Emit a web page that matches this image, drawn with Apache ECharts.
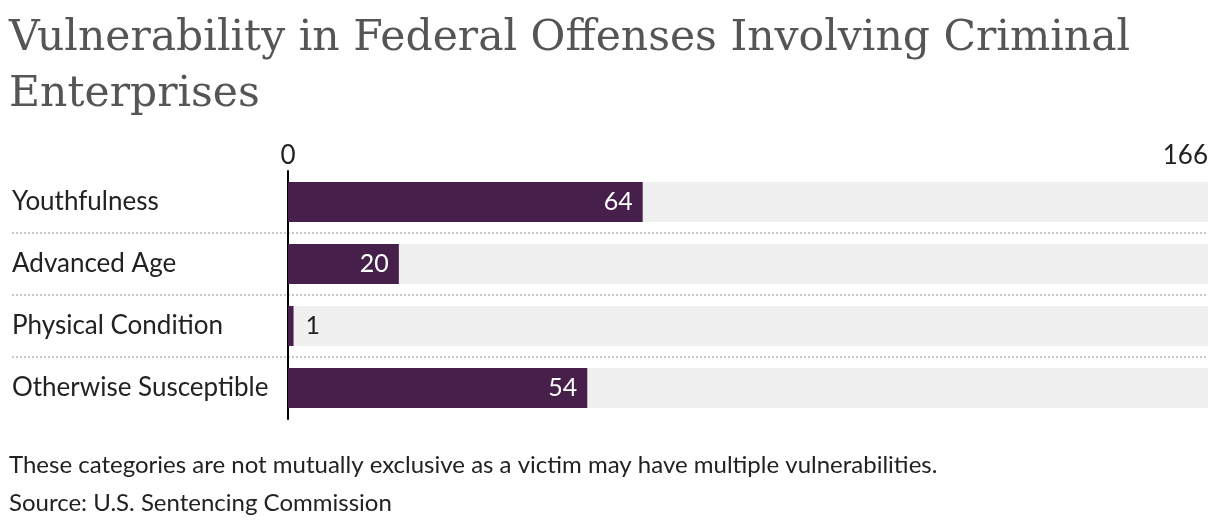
<!DOCTYPE html>
<html>
<head>
<meta charset="utf-8">
<script src="https://cdn.jsdelivr.net/npm/echarts@6/dist/echarts.min.js"></script>
<style>
html,body{margin:0;padding:0;background:#fff;}
#chart{width:1220px;height:528px;}
</style>
</head>
<body>
<div id="chart"></div>
<script>
const titleText = 'Vulnerability in Federal Offenses Involving Criminal\nEnterprises';
const noteText = 'These categories are not mutually exclusive as a victim may have multiple vulnerabilities.';
const sourceText = 'Source: U.S. Sentencing Commission';
const categories = ['Youthfulness', 'Advanced Age', 'Physical Condition', 'Otherwise Susceptible'];
const values = [64, 20, 1, 54];
const axisMax = 166;

const barColor = '#46204a';
const chart = echarts.init(document.getElementById('chart'));

const barData = values.map(v => v < 10
  ? { value: v, label: { position: 'right', color: '#222', distance: 12 } }
  : { value: v });

chart.setOption({
  animation: false,
  title: [
    { text: titleText, left: 4, top: 6,
      textStyle: { fontFamily: 'DejaVu Serif', fontWeight: 'normal', fontSize: 42.5, lineHeight: 56, color: '#555' } },
    { text: noteText, left: 4, top: 448,
      textStyle: { fontFamily: 'Lato', fontWeight: 'normal', fontSize: 24, color: '#222' } },
    { text: sourceText, left: 4, top: 486,
      textStyle: { fontFamily: 'Lato', fontWeight: 'normal', fontSize: 24, color: '#222' } }
  ],
  grid: [
    { left: 288, right: 12, top: 171, bottom: 109 },
    { left: 12, right: 12, top: 233, height: 124 }
  ],
  xAxis: [
    { type: 'value', gridIndex: 0, position: 'top', min: 0, max: axisMax, interval: axisMax,
      axisLine: { show: false }, axisTick: { show: false }, splitLine: { show: false },
      axisLabel: { fontFamily: 'Lato', fontSize: 26, color: '#222', margin: 2,
        alignMinLabel: 'center', alignMaxLabel: 'right' } },
    { type: 'value', gridIndex: 1, min: 0, max: 1, show: false }
  ],
  yAxis: [
    { type: 'category', gridIndex: 0, data: categories, inverse: true,
      axisLine: { show: true, onZero: false, lineStyle: { color: '#000', width: 2 } },
      axisTick: { show: false }, splitLine: { show: false },
      axisLabel: { fontFamily: 'Lato', fontSize: 26, color: '#222', align: 'left', margin: 276 } },
    { type: 'value', gridIndex: 1, min: 0, max: 2, interval: 1,
      axisLine: { show: false }, axisTick: { show: false }, axisLabel: { show: false },
      splitLine: { show: true, lineStyle: { type: [2, 2], color: '#c8c8c8', width: 2 } } }
  ],
  series: [
    { type: 'bar', xAxisIndex: 0, yAxisIndex: 0, data: barData, barWidth: 40,
      itemStyle: { color: barColor },
      showBackground: true, backgroundStyle: { color: '#f0f0f0' },
      label: { show: true, position: 'insideRight', distance: 10, color: '#fff',
        fontFamily: 'Lato', fontSize: 25 },
      z: 3 },
    { type: 'scatter', xAxisIndex: 1, yAxisIndex: 1, data: [], silent: true }
  ]
});
</script>
</body>
</html>
